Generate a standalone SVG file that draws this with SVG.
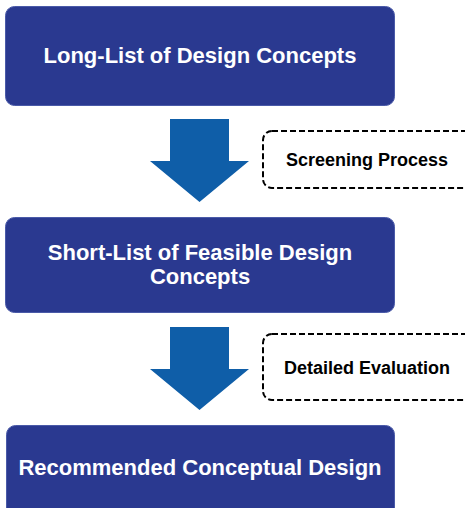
<svg xmlns="http://www.w3.org/2000/svg" width="465" height="508" viewBox="0 0 465 508">
<style>
.box{fill:#2a3990;stroke:#4a5aa8;stroke-width:1}
.big{font-family:"Liberation Sans",Arial,sans-serif;font-weight:bold;font-size:22px;fill:#fff;text-anchor:middle}
.note{fill:#fff;stroke:#000;stroke-width:2;stroke-dasharray:6,3}
.small{font-family:"Liberation Sans",Arial,sans-serif;font-weight:bold;font-size:18px;fill:#000;text-anchor:middle}
.arrow{fill:#0f5ea8}
</style>
<g id="n1"><rect class="box" x="5.5" y="6.5" width="389" height="99" rx="9"/><text class="big" x="200" y="63">Long-List of Design Concepts</text></g>
<g id="n2"><rect class="box" x="5.5" y="217.5" width="389" height="95" rx="9"/><text class="big" x="200" y="260">Short-List of Feasible Design</text><text class="big" x="200" y="284">Concepts</text></g>
<g id="n3"><rect class="box" x="6.5" y="425.5" width="388" height="100" rx="9"/><text class="big" x="200" y="475">Recommended Conceptual Design</text></g>
<g id="s1"><rect class="note" x="263" y="131" width="215" height="57" rx="9"/><text class="small" x="367" y="166">Screening Process</text></g>
<g id="s2"><rect class="note" x="263" y="334" width="215" height="66" rx="9"/><text class="small" x="367" y="374">Detailed Evaluation</text></g>
<g id="connectors">
<polygon class="arrow" points="170,119 229,119 229,161 249,161 199.5,202 150,161 170,161"/>
<polygon class="arrow" points="170,327 229,327 229,369 249,369 199.5,410 150,369 170,369"/>
</g>
</svg>
